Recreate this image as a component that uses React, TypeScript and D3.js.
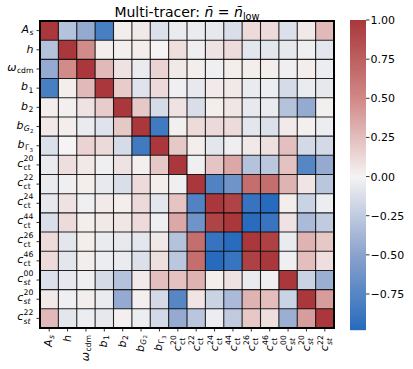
import { useEffect, useRef } from 'react'
import * as d3 from 'd3'

const FONT = 'DejaVu Sans'

// parameter labels (base symbol, sub/superscripts)
const LABELS = [
  { base: 'A', sub: 's', subIt: true },
  { base: 'h' },
  { base: 'ω', sub: 'cdm' },
  { base: 'b', sub: '1' },
  { base: 'b', sub: '2' },
  { base: 'b', sub: 'G', subIt: true, subsub: '2' },
  { base: 'b', sub: 'Γ', subsub: '3' },
  { base: 'c', sub: 'ct', sup: '20' },
  { base: 'c', sub: 'ct', sup: '22' },
  { base: 'c', sub: 'ct', sup: '24' },
  { base: 'c', sub: 'ct', sup: '44' },
  { base: 'c', sub: 'ct', sup: '26' },
  { base: 'c', sub: 'ct', sup: '46' },
  { base: 'c', sub: 'st', subIt: true, sup: '00' },
  { base: 'c', sub: 'st', subIt: true, sup: '20' },
  { base: 'c', sub: 'st', subIt: true, sup: '22' },
]

// correlation matrix, rows/cols in LABELS order
const CORR = [
  [1, -0.30, -0.45, -0.82, 0.03, 0.05, -0.12, -0.05, -0.05, -0.07, -0.13, 0.11, 0.11, -0.12, 0.05, 0.27],
  [-0.30, 1, 0.48, 0.03, 0.02, 0.03, 0.00, 0.10, -0.03, 0.08, 0.11, -0.08, -0.08, -0.07, -0.03, -0.08],
  [-0.45, 0.48, 1, 0.27, 0.08, -0.05, 0.15, 0.05, 0.03, -0.03, 0.03, 0.03, 0.03, -0.03, 0.03, -0.04],
  [-0.82, 0.03, 0.27, 1, 0.18, -0.10, 0.12, -0.03, -0.06, 0.04, 0.05, -0.05, -0.04, -0.15, -0.05, -0.07],
  [0.03, 0.02, 0.08, 0.18, 1, 0.20, -0.15, 0.08, -0.13, 0.03, 0.06, -0.06, -0.05, -0.30, -0.45, 0.02],
  [0.05, 0.03, -0.05, -0.10, 0.20, 1, -0.85, 0.02, 0.11, 0.12, 0.11, -0.08, -0.12, 0.04, 0.02, -0.04],
  [-0.12, 0.00, 0.15, 0.12, -0.15, -0.85, 1, 0.20, 0.03, -0.08, -0.03, 0.05, 0.09, 0.24, -0.16, -0.16],
  [-0.05, 0.10, 0.05, -0.03, 0.08, 0.02, 0.20, 1, -0.03, 0.22, 0.35, -0.30, -0.27, 0.23, -0.75, -0.45],
  [-0.05, -0.03, 0.03, -0.06, -0.13, 0.11, 0.03, -0.03, 1, -0.78, -0.62, 0.66, 0.66, 0.30, 0.07, -0.28],
  [-0.07, 0.08, -0.03, 0.04, 0.03, 0.12, -0.08, 0.22, -0.78, 1, 0.92, -0.91, -0.98, 0.03, -0.20, -0.04],
  [-0.13, 0.11, 0.03, 0.05, 0.06, 0.11, -0.03, 0.35, -0.62, 0.92, 1, -0.97, -0.90, 0.08, -0.35, -0.25],
  [0.11, -0.08, 0.03, -0.05, -0.06, -0.08, 0.05, -0.30, 0.66, -0.91, -0.97, 1, 0.94, -0.05, 0.30, 0.20],
  [0.11, -0.08, 0.03, -0.04, -0.05, -0.12, 0.09, -0.27, 0.66, -0.98, -0.90, 0.94, 1, -0.03, 0.25, 0.10],
  [-0.12, -0.07, -0.03, -0.15, -0.30, 0.04, 0.24, 0.23, 0.30, 0.03, 0.08, -0.05, -0.03, 1, -0.20, -0.42],
  [0.05, -0.03, 0.03, -0.05, -0.45, 0.02, -0.16, -0.75, 0.07, -0.20, -0.35, 0.30, 0.25, -0.20, 1, 0.40],
  [0.27, -0.08, -0.04, -0.07, 0.02, -0.04, -0.16, -0.45, -0.28, -0.04, -0.25, 0.20, 0.10, -0.42, 0.40, 1],
]

const CBAR_TICKS = [1, 0.75, 0.5, 0.25, 0, -0.25, -0.5, -0.75]

// vlag-like diverging map
const vlag = d3.scaleLinear<string>()
  .domain([-1, -0.5, 0, 0.5, 1])
  .range(['#2369bd', '#8aa2cc', '#f5f3f3', '#d08886', '#a9373b'])
  .interpolate(d3.interpolateRgb)
  .clamp(true)

// lay out a mathtext-ish label at origin (baseline y = 0), returns the group
function drawLabel(parent, spec, fs) {
  const g = parent.append('g')
  const base = g.append('text')
    .attr('x', 0).attr('y', 0)
    .attr('font-size', fs).attr('font-style', 'italic')
    .text(spec.base)
  const bw = base.node().getComputedTextLength()
  const sfs = fs * 0.7
  const sx = bw + 0.4
  if (spec.sub) {
    const st = g.append('text')
      .attr('x', sx).attr('y', spec.sup ? 3.4 : 2.2)
      .attr('font-size', sfs)
      .attr('font-style', spec.subIt ? 'italic' : 'normal')
      .text(spec.sub)
    if (spec.subsub) {
      const sw = st.node().getComputedTextLength()
      g.append('text')
        .attr('x', sx + sw + 0.2).attr('y', 3.8)
        .attr('font-size', fs * 0.5)
        .text(spec.subsub)
    }
  }
  if (spec.sup) {
    g.append('text')
      .attr('x', sx).attr('y', -5.6)
      .attr('font-size', sfs)
      .text(spec.sup)
  }
  return g
}

export default function App() {
  const svgRef = useRef(null)

  useEffect(() => {
    const svg = d3.select(svgRef.current)
    svg.selectAll('*').remove()
    svg.attr('font-family', FONT).attr('fill', '#000')

    const n = LABELS.length
    const x = d3.scaleBand().domain(d3.range(n)).range([40, 334])
    const y = d3.scaleBand().domain(d3.range(n)).range([21, 328])
    const bw = x.bandwidth()
    const bh = y.bandwidth()

    // cells
    const cells = CORR.flatMap((row, i) => row.map((v, j) => ({ i, j, v })))
    svg.append('g')
      .selectAll('rect')
      .data(cells)
      .join('rect')
      .attr('x', (d) => x(d.j))
      .attr('y', (d) => y(d.i))
      .attr('width', bw + 0.3)
      .attr('height', bh + 0.3)
      .attr('fill', (d) => vlag(d.v))

    // cell edges
    const grid = svg.append('g').attr('stroke', '#000').attr('stroke-width', 1.1).attr('stroke-opacity', 0.85)
    for (let k = 1; k < n; k++) {
      grid.append('line').attr('x1', x(k)).attr('x2', x(k)).attr('y1', 21).attr('y2', 328)
      grid.append('line').attr('x1', 40).attr('x2', 334).attr('y1', y(k)).attr('y2', y(k))
    }
    svg.append('rect')
      .attr('x', 40).attr('y', 21).attr('width', 294).attr('height', 307)
      .attr('fill', 'none').attr('stroke', '#000').attr('stroke-width', 2)

    // y tick marks + labels
    const fs = 11
    LABELS.forEach((spec, i) => {
      const cy = y(i) + bh / 2
      svg.append('line')
        .attr('x1', 36.5).attr('x2', 40).attr('y1', cy).attr('y2', cy)
        .attr('stroke', '#000').attr('stroke-width', 0.8)
      const g = drawLabel(svg, spec, fs)
      const bb = g.node().getBBox()
      const off = spec.sup ? 1.8 : spec.sub ? 2.2 : 2.8
      g.attr('transform', `translate(${33.5 - (bb.x + bb.width)},${cy + off})`)
    })

    // x tick marks + rotated labels
    LABELS.forEach((spec, j) => {
      const cx = x(j) + bw / 2
      svg.append('line')
        .attr('x1', cx).attr('x2', cx).attr('y1', 328).attr('y2', 331.5)
        .attr('stroke', '#000').attr('stroke-width', 0.8)
      const g = drawLabel(svg, spec, fs)
      const bb = g.node().getBBox()
      const mid = bb.y + bb.height / 2
      const right = bb.x + bb.width
      g.attr('transform', `translate(${cx - mid},${335 + right}) rotate(-90)`)
    })

    // colorbar
    const vmin = d3.min(CORR.flat())
    const cb = d3.scaleLinear().domain([vmin, 1]).range([330, 20])
    const steps = d3.range(20, 330, 1)
    svg.append('g')
      .selectAll('rect')
      .data(steps)
      .join('rect')
      .attr('x', 350).attr('width', 16)
      .attr('y', (d) => d).attr('height', 1.2)
      .attr('fill', (d) => vlag(cb.invert(d + 0.5)))

    const fmt = (v) => d3.format('.2f')(v).replace('-', '\u2212')
    CBAR_TICKS.forEach((t) => {
      const ty = cb(t)
      svg.append('line')
        .attr('x1', 366).attr('x2', 369.5).attr('y1', ty).attr('y2', ty)
        .attr('stroke', '#000').attr('stroke-width', 0.8)
      svg.append('text')
        .attr('x', 370.5).attr('y', ty + 4)
        .attr('font-size', 11)
        .text(fmt(t))
    })

    // title
    const title = svg.append('text')
      .attr('x', 187).attr('y', 17)
      .attr('text-anchor', 'middle')
      .attr('font-size', 14)
    title.append('tspan').text('Multi-tracer: ')
    title.append('tspan').attr('font-style', 'italic').text('n\u0304')
    title.append('tspan').text(' = ')
    title.append('tspan').attr('font-style', 'italic').text('n\u0304')
    title.append('tspan').attr('font-size', 9.8).attr('dy', 2.5).text('low')
  }, [])

  return (
    <svg
      ref={svgRef}
      width={413}
      height={369}
      style={{ position: 'absolute', left: 0, top: 0, background: '#fff' }}
    />
  )
}
